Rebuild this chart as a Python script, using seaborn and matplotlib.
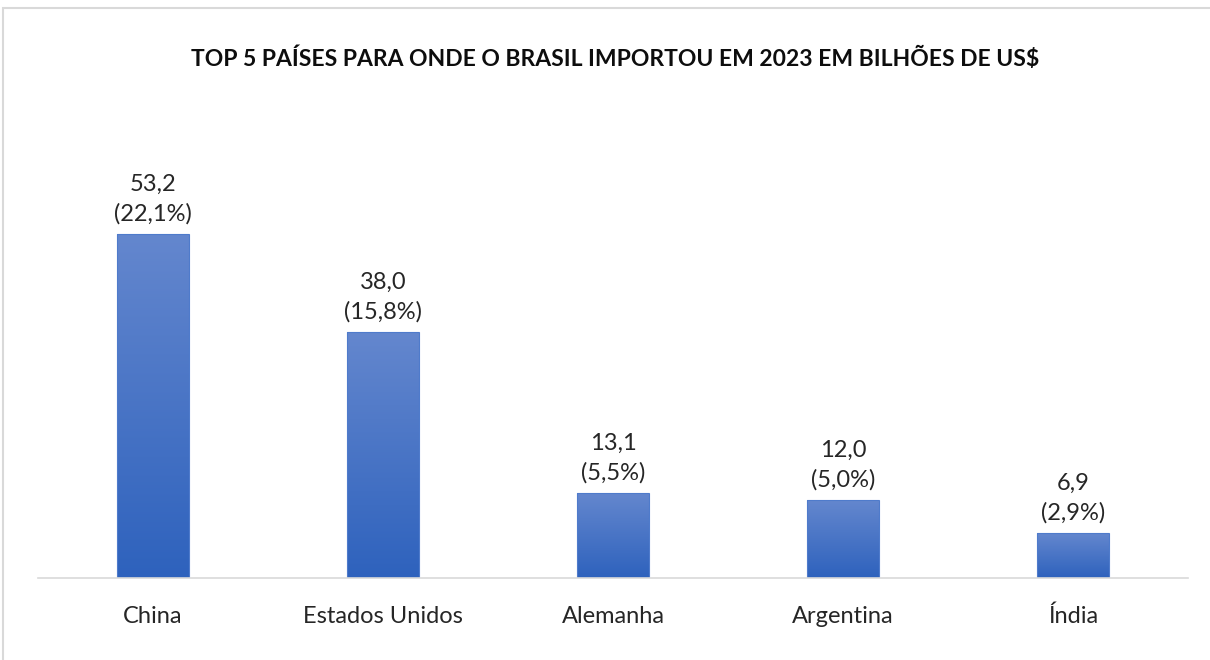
import numpy as np
import pandas as pd
import matplotlib
matplotlib.use('Agg')
import matplotlib.pyplot as plt
import matplotlib.colors as mcolors
from matplotlib.patches import Rectangle
import seaborn as sns

# Dados do gráfico
paises = ['China', 'Estados Unidos', 'Alemanha', 'Argentina', 'Índia']
valores = [53.2, 38.0, 13.1, 12.0, 6.9]
percentuais = [22.1, 15.8, 5.5, 5.0, 2.9]

df = pd.DataFrame({'País': paises, 'Valor': valores, 'Pct': percentuais})

sns.set_style('white')
plt.rcParams['font.family'] = ['Lato', 'DejaVu Sans']

fig = plt.figure(figsize=(12.1, 6.6), dpi=100)
ax = fig.add_axes([38 / 1210, 82 / 660, 1150 / 1210, 388 / 660])

sns.barplot(x='País', y='Valor', data=df, color='#4472C4', width=0.313,
            edgecolor='#4F7BCB', linewidth=0.8, ax=ax)

# Gradiente vertical dentro de cada barra
cmap = mcolors.LinearSegmentedColormap.from_list('grad', ['#2E62BD', '#6487CE'])
grad = np.linspace(0, 1, 256).reshape(-1, 1)
for bar in ax.patches:
    x0, y0 = bar.get_x(), bar.get_y()
    w, h = bar.get_width(), bar.get_height()
    im = ax.imshow(grad, cmap=cmap, aspect='auto', origin='lower',
                   extent=[x0, x0 + w, y0, y0 + h], zorder=bar.get_zorder() + 0.1)
    im.set_clip_path(bar)
    bar.set_zorder(bar.get_zorder() + 0.2)
    bar.set_facecolor('none')
ax.set_xlim(-0.5, 4.5)
ax.set_ylim(0, 60)

# Rótulos de dados
for i, (v, p) in enumerate(zip(valores, percentuais)):
    txt = f'{v:.1f}'.replace('.', ',') + '\n(' + f'{p:.1f}'.replace('.', ',') + '%)'
    ax.annotate(txt, (i, v), xytext=(0, 7), textcoords='offset points',
                ha='center', va='bottom', fontsize=17, color='#262626',
                linespacing=1.45)

ax.set_xlabel('')
ax.set_ylabel('')
ax.set_yticks([])
ax.tick_params(axis='x', length=0, labelsize=17, labelcolor='#262626', pad=20)
for s in ['top', 'right', 'left']:
    ax.spines[s].set_visible(False)
ax.spines['bottom'].set_color('#D9D9D9')
ax.spines['bottom'].set_linewidth(1.2)

fig.text(615 / 1210, 1 - 58 / 660, 'TOP 5 PAÍSES PARA ONDE O BRASIL IMPORTOU EM 2023 EM BILHÕES DE US$',
         ha='center', va='center', fontsize=16.5, fontweight='bold', color='#0D0D0D')

# Moldura da área do gráfico
fig.add_artist(Rectangle((3 / 1210, -0.1), 1.1, 1 - 8 / 660 + 0.1, transform=fig.transFigure,
                         fill=False, edgecolor='#D9D9D9', linewidth=1.5))

fig.savefig('out.png', dpi=100)
